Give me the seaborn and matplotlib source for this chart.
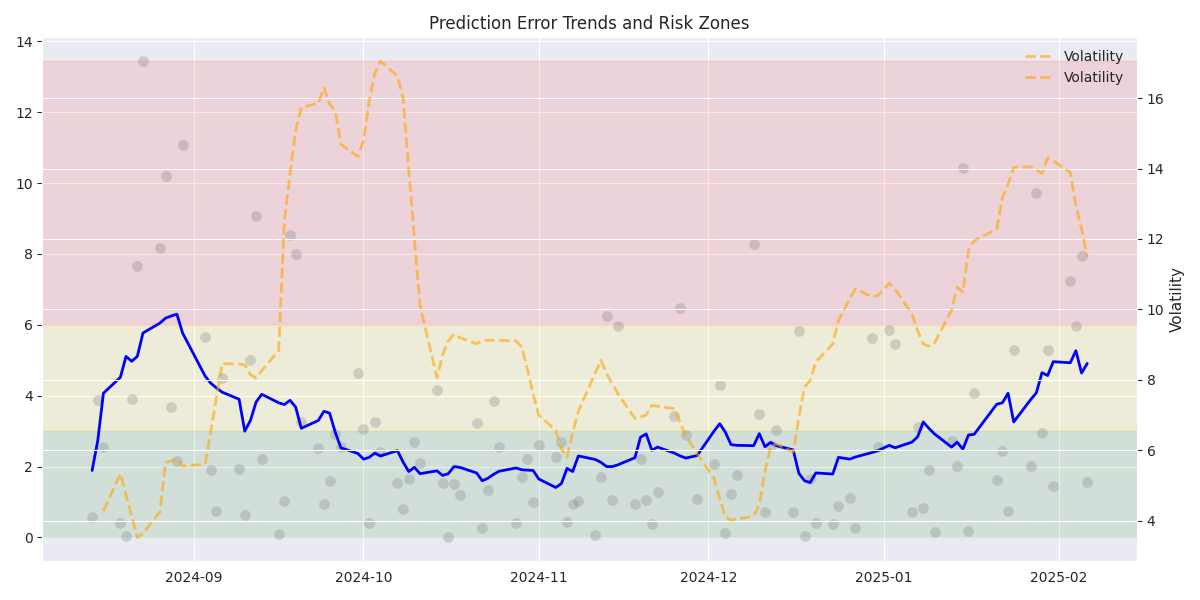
import numpy as np
import pandas as pd
import seaborn as sns
import matplotlib.pyplot as plt

# trading days (exchange holidays skipped)
holidays = ['2024-09-02', '2024-11-28', '2024-12-25', '2025-01-01', '2025-01-20']
dates = pd.bdate_range('2024-08-14', '2025-02-06', freq='C', holidays=holidays)

# prediction error per day (grey points)
errors = [
    0.57, 3.89, 2.56, 0.41, 0.04, 3.91, 7.67, 13.44, 8.18, 10.19, 3.67, 2.15, 11.06,
    5.65, 1.90, 0.74, 4.51, 1.94, 0.64, 5.01, 9.06, 2.21, 0.09, 1.03, 8.53, 8.01,
    3.25, 2.53, 0.94, 1.59, 2.92, 2.54, 4.65,
    3.06, 0.41, 3.27, 2.40, 1.54, 0.80, 1.65, 2.70, 2.09, 4.15, 1.53, 0.00, 1.51,
    1.21, 3.23, 0.26, 1.34, 3.84, 2.56, 0.41, 1.72, 2.20, 0.99,
    2.62, 2.28, 2.70, 0.44, 0.94, 1.02, 0.08, 1.72, 6.26, 1.06, 5.98, 0.94, 2.21,
    1.06, 0.38, 1.27, 3.44, 6.48, 2.89, 1.08,
    2.07, 4.31, 0.12, 1.24, 1.76, 8.29, 3.47, 0.73, 2.62, 3.04, 0.73, 5.82, 0.04,
    1.65, 0.41, 0.39, 0.90, 1.12, 0.26, 5.63, 2.56,
    5.84, 5.45, 0.73, 3.13, 0.82, 1.90, 0.16, 2.73, 2.03, 10.42, 0.19, 4.08, 1.62,
    2.44, 0.74, 5.28, 2.03, 9.71, 2.95, 5.28, 1.45,
    7.23, 5.96, 7.95, 1.56,
]

# smoothed error (blue line)
error_trend = [
    1.89, 2.73, 4.07, 4.52, 5.11, 4.97, 5.11, 5.77, 6.05, 6.19, 6.25, 6.30, 5.77,
    4.55, 4.35, 4.22, 4.10, 3.90, 3.00, 3.30, 3.82, 4.04, 3.80, 3.75, 3.87, 3.68,
    3.08, 3.30, 3.56, 3.51, 2.97, 2.53, 2.37,
    2.21, 2.26, 2.38, 2.30, 2.45, 2.13, 1.86, 1.98, 1.80, 1.88, 1.75, 1.80, 2.00,
    1.98, 1.82, 1.60, 1.67, 1.78, 1.87, 1.96, 1.91, 1.90, 1.89,
    1.65, 1.41, 1.52, 1.95, 1.86, 2.30, 2.20, 2.12, 2.00, 2.00, 2.05, 2.25, 2.83,
    2.92, 2.46, 2.55, 2.38, 2.30, 2.24, 2.31,
    3.00, 3.21, 2.97, 2.62, 2.60, 2.59, 2.93, 2.56, 2.68, 2.59, 2.47, 1.81, 1.60,
    1.55, 1.82, 1.79, 2.26, 2.21, 2.27, 2.40, 2.45,
    2.60, 2.53, 2.69, 2.84, 3.26, 3.08, 2.92, 2.55, 2.69, 2.49, 2.89, 2.91, 3.76,
    3.80, 4.07, 3.26, 3.89, 4.08, 4.65, 4.57, 4.96,
    4.93, 5.27, 4.64, 4.91,
]

# volatility (right axis), first two days missing
volatility = [
    np.nan, np.nan, 4.27, 5.33, 4.73, 4.12, 3.52, 3.63, 4.25, 5.66, 5.69, 5.76, 5.55,
    5.60, 6.55, 7.51, 8.46, 8.45, 8.42, 8.15, 8.05, 8.26, 8.83, 12.50, 13.84, 15.07,
    15.74, 15.85, 16.30, 15.83, 15.64, 14.69, 14.34,
    14.79, 15.90, 16.70, 17.05, 16.63, 16.00, 14.00, 12.00, 10.10, 8.06, 8.72, 9.10, 9.30,
    9.20, 9.02, 9.12, 9.12, 9.12, 9.12, 9.10, 8.93, 8.30, 7.60,
    7.00, 6.56, 6.04, 5.80, 6.50, 7.10, 8.20, 8.55, 8.17, 7.89, 7.60, 6.90, 6.95,
    7.00, 7.27, 7.25, 7.18, 6.78, 6.40, 5.90,
    5.20, 4.62, 4.10, 4.01, 4.04, 4.12, 4.45, 5.40, 6.09, 6.18, 5.95, 6.94, 7.79,
    7.98, 8.50, 9.02, 9.68, 10.30, 10.58, 10.35, 10.40,
    10.74, 10.58, 9.87, 9.40, 9.02, 8.95, 9.05, 9.97, 10.63, 10.49, 11.67, 11.95, 12.28,
    13.18, 13.55, 14.03, 14.05, 13.96, 13.86, 14.30, 14.22,
    13.89, 12.95, 12.28, 11.50,
]

# risk zone limits
low_risk = 3
high_risk = 6

sns.set_style('darkgrid')
plt.rcParams['font.family'] = ['DejaVu Sans']

fig, ax1 = plt.subplots(figsize=(12, 6))

ax1.axhspan(0, low_risk, color='green', alpha=0.1)
ax1.axhspan(low_risk, high_risk, color='yellow', alpha=0.1)
ax1.axhspan(high_risk, max(errors), color='red', alpha=0.1)

sns.scatterplot(x=dates, y=errors, color='gray', alpha=0.3, s=60,
                linewidth=0, ax=ax1)
sns.lineplot(x=dates, y=error_trend, color='blue', linewidth=2, ax=ax1)

ax2 = ax1.twinx()
sns.lineplot(x=dates, y=volatility, color='orange', linestyle='--',
             alpha=0.6, linewidth=2, label='Volatility', ax=ax2)
ax2.set_ylabel('Volatility', fontsize=11)

# legend repeats the volatility entry, as in the source chart
handles, labels = ax2.get_legend_handles_labels()
ax2.legend(handles + handles, labels + labels, loc='upper right', frameon=False)

ax1.set_title('Prediction Error Trends and Risk Zones')
ax1.set_xlabel('')
ax1.set_ylabel('')

plt.tight_layout()
plt.savefig('out.png', dpi=100)
